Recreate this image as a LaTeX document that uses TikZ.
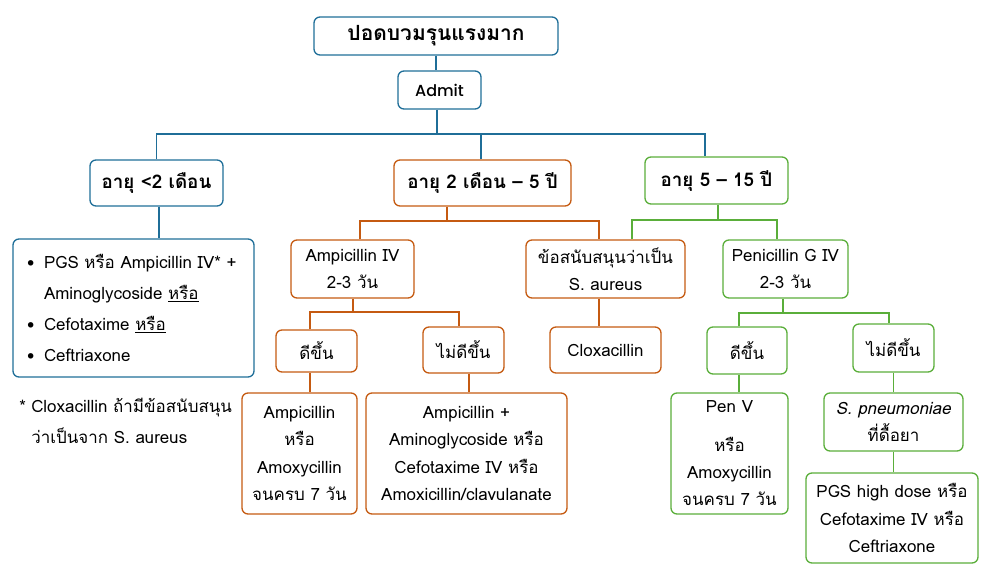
\documentclass[tikz,border=0pt]{standalone}
\usepackage{fontspec}
\setmainfont[Script=Thai]{Loma}
\newfontfamily\admitfont{Poppins}[UprightFont={* Medium}]
\usetikzlibrary{calc}
\definecolor{cblue}{HTML}{1F6E98}
\definecolor{corange}{HTML}{C55A11}
\definecolor{cgreen}{HTML}{5AAE3A}
\newcommand{\bodyf}{\fontsize{12.7}{20.6}\selectfont}
\newcommand{\headf}{\bfseries\fontsize{14.1}{18}\selectfont}
\newcommand{\titlef}{\bfseries\fontsize{15.7}{20}\selectfont}
\begin{document}
\begin{tikzpicture}[x=0.75pt,y=-0.75pt,
  box/.style={rounded corners=4.5pt,line width=1pt,inner sep=0pt,align=center,font=\bodyf,text=black},
  sz/.style 2 args={minimum width=#1*0.75pt,minimum height=#2*0.75pt},
  bl/.style={box,draw=cblue},
  og/.style={box,draw=corange},
  gr/.style={box,draw=cgreen},
  bline/.style={cblue,line width=1pt},
  oline/.style={corange,line width=1pt},
  gline/.style={cgreen,line width=1pt}]
\useasboundingbox (0,0) rectangle (990,572);
% nodes
\node[bl,sz={244}{38},font=\titlef] (title) at (436,36) {ปอดบวมรุนแรงมาก};
\node[bl,sz={83}{38},font=\admitfont\fontsize{12}{14}\selectfont] (admit) at (439.5,90) {Admit};
\node[bl,sz={133}{46},font=\headf] (age1) at (156.5,183) {อายุ <2 เดือน};
\node[og,sz={177}{46},font=\headf] (age2) at (482.5,183) {อายุ 2 เดือน – 5 ปี};
\node[gr,sz={143}{47},font=\headf] (age3) at (716.5,180.5) {อายุ 5 – 15 ปี};
\node[bl,sz={241}{138},align=left,text width=213*0.75pt,font=\fontsize{12.7}{23.25}\selectfont] (list) at (133.5,308)
  {\makebox[12.75pt][l]{\large•}PGS หรือ Ampicillin IV* +\\
   \hspace*{12.75pt}Aminoglycoside \underline{หรือ}\\
   \makebox[12.75pt][l]{\large•}Cefotaxime \underline{หรือ}\\
   \makebox[12.75pt][l]{\large•}Ceftriaxone};
\node[align=left,anchor=north west,inner sep=0pt,font=\fontsize{12.7}{23.25}\selectfont] (note) at (19,398)
  {\makebox[9pt][l]{*}Cloxacillin ถ้ามีข้อสนับสนุน\\
   \hspace*{9pt}ว่าเป็นจาก S. aureus};
\node[og,sz={123}{58}] (amp) at (352.5,269) {Ampicillin IV\\2-3 วัน};
\node[og,sz={159}{58}] (sup) at (605.5,269) {ข้อสนับสนุนว่าเป็น\\S. aureus};
\node[gr,sz={125}{58}] (pen) at (785.5,269) {Penicillin G IV\\2-3 วัน};
\node[og,sz={81}{42}] (dee1) at (316.5,351) {ดีขึ้น};
\node[og,sz={81}{46}] (mai1) at (463.5,350) {ไม่ดีขึ้น};
\node[og,sz={111}{46}] (clox) at (605.5,350) {Cloxacillin};
\node[gr,sz={80}{47}] (dee2) at (747,350.5) {ดีขึ้น};
\node[gr,sz={81}{48}] (mai2) at (893.5,348) {ไม่ดีขึ้น};
\node[og,sz={115}{121}] (res1) at (299.5,453.5) {Ampicillin\\หรือ\\Amoxycillin\\จนครบ 7 วัน};
\node[og,sz={201}{121}] (res2) at (466.5,453.5) {Ampicillin +\\Aminoglycoside หรือ\\Cefotaxime IV หรือ\\Amoxicillin/clavulanate};
\node[gr,sz={117}{121}] (penv) at (729.5,453.5) {Pen V\\[8pt]หรือ\\Amoxycillin\\จนครบ 7 วัน};
\node[gr,sz={139}{58}] (spn) at (893.5,422) {\textit{S. pneumoniae}\\ที่ดื้อยา};
\node[gr,sz={172}{90}] (pgs) at (892,518) {PGS high dose หรือ\\Cefotaxime IV หรือ\\Ceftriaxone};
% blue connectors
\draw[bline] (title.south) -- (title.south |- admit.north);
\coordinate (b0) at ($(admit.south)+(-2.5,0)$);
\coordinate (bus0) at (b0 |- 0,134);
\draw[bline] (b0) -- (bus0);
\coordinate (a3t) at ($(age3.north)+(-11.5,0)$);
\coordinate (a2t) at ($(age2.north)+(-1.5,0)$);
\draw[bline] (age1.north) |- (bus0) -| (a3t);
\draw[bline] (a2t) -- (a2t |- bus0);
\coordinate (a1b) at ($(age1.south)+(2.5,0)$);
\draw[bline] (a1b) -- (a1b |- list.north);
% orange
\coordinate (a2b) at ($(age2.south)+(-35.5,0)$);
\coordinate (ampt) at ($(amp.north)+(7.5,0)$);
\coordinate (supt1) at ($(sup.north)+(-6.5,0)$);
\draw[oline] (a2b) -- (a2b |- 0,221);
\draw[oline] (ampt) |- (supt1 |- 0,221) -- (supt1);
\coordinate (ampb) at ($(amp.south)+(0.5,0)$);
\coordinate (d1t) at ($(dee1.north)+(-6.5,0)$);
\coordinate (m1t) at ($(mai1.north)+(-4.5,0)$);
\draw[oline] (ampb) -- (ampb |- 0,312);
\draw[oline] (d1t) |- (m1t |- 0,312) -- (m1t);
\coordinate (d1b) at ($(dee1.south)+(-6.5,0)$);
\draw[oline] (d1b) -- (d1b |- res1.north);
\coordinate (m1b) at ($(mai1.south)+(5.5,0)$);
\draw[oline] (m1b) -- (m1b |- res2.north);
\coordinate (supb) at ($(sup.south)+(-6.5,0)$);
\draw[oline] (supb) -- (supb |- clox.north);
% green
\coordinate (a3b) at ($(age3.south)+(1.5,0)$);
\coordinate (supt2) at ($(sup.north)+(26.5,0)$);
\coordinate (pent) at ($(pen.north)+(-8.5,0)$);
\draw[gline] (a3b) -- (a3b |- 0,220);
\draw[gline] (supt2) |- (pent |- 0,220) -- (pent);
\coordinate (penb) at ($(pen.south)+(-2.5,0)$);
\coordinate (d2t) at ($(dee2.north)+(-8,0)$);
\coordinate (m2t) at ($(mai2.north)+(-4.5,0)$);
\draw[gline] (penb) -- (penb |- 0,313);
\draw[gline] (d2t) |- (m2t |- 0,313) -- (m2t);
\coordinate (d2b) at ($(dee2.south)+(-8,0)$);
\draw[gline] (d2b) -- (d2b |- penv.north);
\draw[gline] (mai2.south) -- (mai2.south |- spn.north);
\draw[gline] (spn.south) -- (spn.south |- pgs.north);
\end{tikzpicture}
\end{document}
